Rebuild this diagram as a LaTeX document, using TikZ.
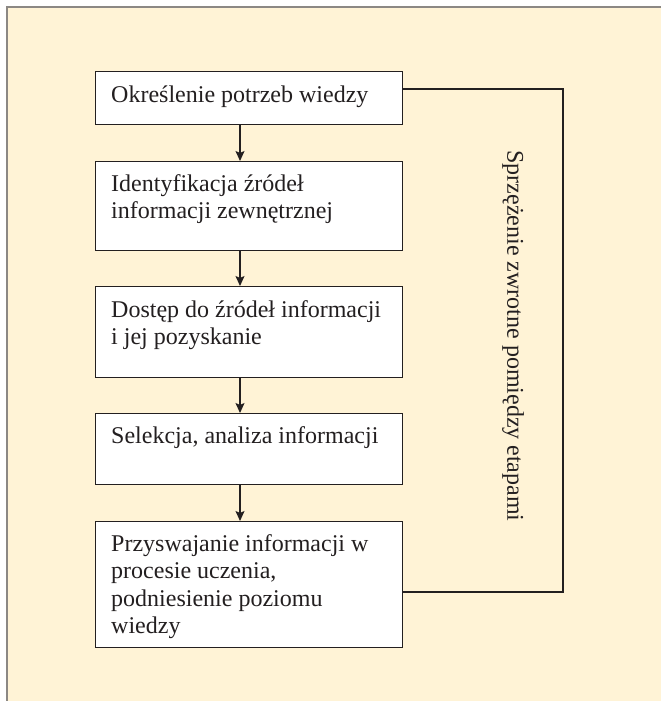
\documentclass[tikz,border=0pt]{standalone}
\usepackage{fontspec}
\setmainfont{Liberation Serif}
\usetikzlibrary{arrows.meta,calc}
\definecolor{cream}{HTML}{FFF3D6}
\definecolor{framegray}{HTML}{8C8884}
\definecolor{ink}{HTML}{231F20}
\begin{document}
\begin{tikzpicture}[x=1pt,y=-1pt,
  stepbox/.style={draw=ink, line width=1.3pt, fill=white, inner sep=0pt, minimum width=307pt, anchor=north west},
  steptext/.style={anchor=base west, inner sep=0pt, text=ink, font=\fontsize{24}{27.5}\selectfont},
  flow/.style={draw=ink, line width=1.2pt, -{Stealth[length=10pt,width=9pt,inset=2pt]}},
  fbline/.style={draw=ink, line width=1.2pt}]
\useasboundingbox (0,0) rectangle (661,701);
\fill[white] (0,0) rectangle (661,701);
\fill[cream] (7,7) rectangle (661,701);
\draw[framegray, line width=2pt] (7,701) -- (7,7) -- (661,7);

\node[stepbox, minimum height=53pt]  (b1) at (95,71)  {};
\node[stepbox, minimum height=89pt]  (b2) at (95,161) {};
\node[stepbox, minimum height=91pt]  (b3) at (95,286) {};
\node[stepbox, minimum height=71pt]  (b4) at (95,413) {};
\node[stepbox, minimum height=126pt] (b5) at (95,521) {};

\node[steptext] (t1) at (111,102) {\parbox[t]{285pt}{\raggedright Określenie potrzeb wiedzy}};
\node[steptext] (t2) at (111,191) {\parbox[t]{285pt}{\raggedright Identyfikacja źródeł\\informacji zewnętrznej}};
\node[steptext] (t3) at (111,317) {\parbox[t]{285pt}{\raggedright Dostęp do źródeł informacji\\i jej pozyskanie}};
\node[steptext] (t4) at (111,443) {\parbox[t]{285pt}{\raggedright Selekcja, analiza informacji}};
\node[steptext] (t5) at (111,551) {\parbox[t]{285pt}{\raggedright Przyswajanie informacji w\\procesie uczenia,\\podniesienie poziomu\\wiedzy}};

\coordinate (ax) at (240,0);
\draw[flow] (b1.south -| ax) -- (b2.north -| ax);
\draw[flow] (b2.south -| ax) -- (b3.north -| ax);
\draw[flow] (b3.south -| ax) -- (b4.north -| ax);
\draw[flow] (b4.south -| ax) -- (b5.north -| ax);

\coordinate (fa) at (563,89);
\coordinate (fb) at (563,592);
\draw[fbline] (b1.east |- fa) -- (fa) -- (fb) -- (b5.east |- fb);

\node[rotate=-90, inner sep=0pt, text=ink, font=\fontsize{24}{27.5}\selectfont] (fbl) at (513,336) {Sprzężenie zwrotne pomiędzy etapami};
\end{tikzpicture}
\end{document}
